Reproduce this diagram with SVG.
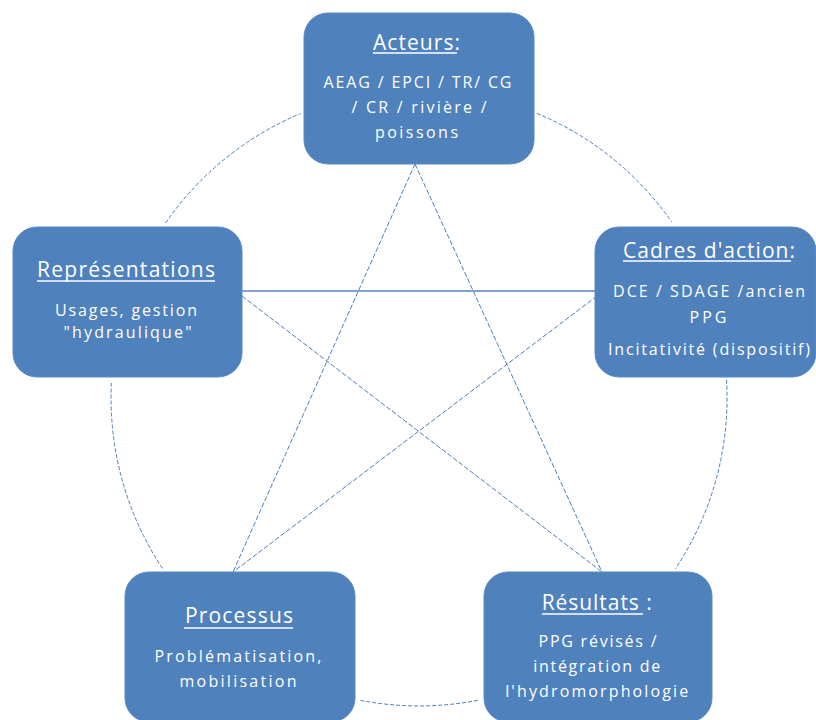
<svg xmlns="http://www.w3.org/2000/svg" width="816" height="720" viewBox="0 0 816 720">
<style>
  .box { fill: #4f81bd; stroke: #5a8ac3; stroke-width: 1; }
  .title { font-family: "Open Sans", "Liberation Sans", sans-serif; font-size: 21px; fill: #ffffff; text-anchor: middle; }
  .body { font-family: "Open Sans", "Liberation Sans", sans-serif; font-size: 16px; fill: #ffffff; text-anchor: middle; }
  .ul { stroke: #ffffff; stroke-width: 1.5; }
  .arc { fill: none; stroke: #4a7ebb; stroke-width: 1; stroke-dasharray: 4 2; }
  .star { fill: none; stroke: #4a7ebb; stroke-width: 1; stroke-dasharray: 5 2; }
  .solid { fill: none; stroke: #7fa2d3; stroke-width: 2; }
</style>
<rect width="816" height="720" fill="#ffffff"/>
<g id="connectors">
  <path class="arc" d="M536.9,113.4 A308,308 0 0 1 671.9,222.2"/>
  <path class="arc" d="M726.5,379.7 A308,308 0 0 1 675.3,568.9"/>
  <path class="arc" d="M477.8,700.3 A308,308 0 0 1 360.2,700.3"/>
  <path class="arc" d="M162.5,568.4 A308,308 0 0 1 111.4,383.0"/>
  <path class="arc" d="M165.5,223.1 A308,308 0 0 1 300.6,113.6"/>
  <line class="star" x1="415" y1="164" x2="233" y2="572"/>
  <line class="star" x1="415" y1="164" x2="602" y2="572"/>
  <line class="solid" x1="240" y1="291" x2="597" y2="291"/>
  <line class="star" x1="242" y1="296" x2="602" y2="572"/>
  <line class="star" x1="597" y1="296" x2="233" y2="572"/>
</g>
<g id="acteurs">
  <rect class="box" x="304" y="13" width="230" height="151" rx="24"/>
  <text class="title" x="416.5" y="50" textLength="87" lengthAdjust="spacing">Acteurs:</text>
  <line class="ul" x1="373" y1="53" x2="457" y2="53"/>
  <text class="body" x="417.5" y="88" textLength="188" lengthAdjust="spacing">AEAG  / EPCI / TR/ CG</text>
  <text class="body" x="419" y="113" textLength="135" lengthAdjust="spacing">/ CR / rivière /</text>
  <text class="body" x="416.5" y="138" textLength="83" lengthAdjust="spacing">poissons</text>
</g>
<g id="cadres">
  <rect class="box" x="595" y="227" width="221" height="150" rx="24"/>
  <text class="title" x="709" y="258" textLength="172" lengthAdjust="spacing">Cadres d'action:</text>
  <line class="ul" x1="623" y1="261" x2="791" y2="261"/>
  <text class="body" x="709" y="297" textLength="192" lengthAdjust="spacing">DCE / SDAGE /ancien</text>
  <text class="body" x="708" y="323" textLength="37" lengthAdjust="spacing">PPG</text>
  <text class="body" x="709" y="355" textLength="202" lengthAdjust="spacing">Incitativité (dispositif)</text>
</g>
<g id="representations">
  <rect class="box" x="13" y="227" width="229" height="150" rx="24"/>
  <text class="title" x="126" y="277" textLength="178" lengthAdjust="spacing">Représentations</text>
  <line class="ul" x1="37" y1="281" x2="215" y2="281"/>
  <text class="body" x="126" y="316" textLength="142" lengthAdjust="spacing">Usages, gestion</text>
  <text class="body" x="127.5" y="338" textLength="128" lengthAdjust="spacing">"hydraulique"</text>
</g>
<g id="processus">
  <rect class="box" x="125" y="572" width="230" height="150" rx="24"/>
  <text class="title" x="239" y="623" textLength="108" lengthAdjust="spacing">Processus</text>
  <line class="ul" x1="184" y1="628" x2="293" y2="628"/>
  <text class="body" x="238" y="662" textLength="167" lengthAdjust="spacing">Problématisation,</text>
  <text class="body" x="238" y="687" textLength="117" lengthAdjust="spacing">mobilisation</text>
</g>
<g id="resultats">
  <rect class="box" x="484" y="572" width="228" height="150" rx="24"/>
  <text class="title" x="596.7" y="610" textLength="110" lengthAdjust="spacing">Résultats :</text>
  <line class="ul" x1="542" y1="614" x2="643" y2="614"/>
  <text class="body" x="597.5" y="647" textLength="118" lengthAdjust="spacing">PPG révisés /</text>
  <text class="body" x="596.7" y="672" textLength="127" lengthAdjust="spacing">intégration de</text>
  <text class="body" x="596.7" y="697" textLength="183" lengthAdjust="spacing">l'hydromorphologie</text>
</g>
</svg>
